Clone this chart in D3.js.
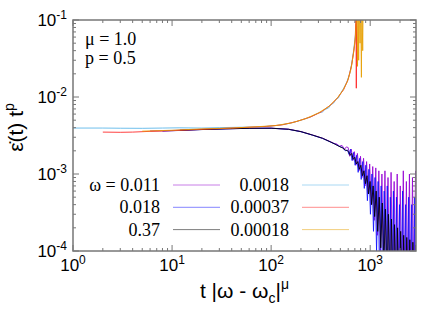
<!DOCTYPE html>
<html>
<head>
<meta charset="utf-8">
<script src="https://cdn.jsdelivr.net/npm/d3@7"></script>
<style>
  body { margin: 0; background: #fff; }
  svg { display: block; }
  .serif { font-family: "Liberation Serif", "Times New Roman", Times, serif; }
  .sans { font-family: "Liberation Sans", Arial, Helvetica, sans-serif; }
</style>
</head>
<body>
<div class="plot"></div>
<script>
// legend labels, in drawing order
var omegas = ["0.011", "0.018", "0.37", "0.0018", "0.00037", "0.00018"];
var colors = ["#9400d3", "#1010ff", "#000000", "#56b4e9", "#ff2020", "#e69f00"];

// each series: [t |w - wc|^mu, eps_dot * t^p]
var s011 = [[6,3.62e-3],[8,3.64e-3],[12,3.7e-3],[20,3.79e-3],[35,3.87e-3],[60,3.93e-3],[100,3.94e-3],[150,3.82e-3],[200,3.56e-3],[260,3.22e-3],[330,2.92e-3],
  [400,2.62e-3],[430,2.5e-3],[460,2.45e-3],[490,2.3e-3],[520,2.35e-3],[550,2.1e-3],[575,2.25e-3],
  [600,2.2e-3],[622,1.7e-3],[645,2.1e-3],[668,1.5e-3],[692,1.95e-3],[717,1.3e-3],[743,1.85e-3],[770,1.1e-3],[798,1.7e-3],[827,9e-4],[857,1.6e-3],
  [888,7e-4],[920,1.45e-3],[953,5.5e-4],[988,1.35e-3],[1024,4e-4],[1061,1.25e-3],[1099,2.5e-4],[1139,1.2e-3],[1180,1.6e-4],[1223,1.1e-3],[1267,1e-4],
  [1313,1.0e-3],[1360,7e-5],[1409,1.1e-3],[1460,5e-5],[1513,9e-4],[1568,4e-5],[1625,1.05e-3],[1684,3e-5],[1745,8e-4],[1808,3e-5],[1873,1.0e-3],
  [1941,2e-5],[2011,7e-4],[2084,3e-5],[2159,1.1e-3],[2237,2e-5],[2318,8e-4],[2402,3e-5],[2489,1.0e-3],[2579,2e-5],[2672,9e-4],[2769,3e-5],[2869,1.1e-3]];
var s018 = [[8,3.6e-3],[12,3.68e-3],[20,3.78e-3],[35,3.86e-3],[60,3.92e-3],[100,3.93e-3],[150,3.8e-3],[200,3.54e-3],[260,3.2e-3],[330,2.9e-3],
  [410,2.55e-3],[440,2.45e-3],[470,2.35e-3],[500,2.25e-3],[530,2.2e-3],[560,2.0e-3],[590,2.05e-3],
  [611,1.8e-3],[633,2.1e-3],[656,1.5e-3],[680,1.9e-3],[705,1.3e-3],[730,1.75e-3],[756,1.05e-3],[784,1.6e-3],[812,8.5e-4],[842,1.45e-3],[872,6.5e-4],
  [904,1.3e-3],[937,4.5e-4],[971,1.15e-3],[1006,3e-4],[1042,1.0e-3],[1080,1.8e-4],[1119,9e-4],[1160,1e-4],[1202,8e-4],[1245,4e-5],[1290,7e-4],
  [1337,3e-5],[1385,6e-4],[1435,2e-5],[1487,7e-4],[1541,2e-5],[1597,5e-4],[1655,2e-5],[1715,6e-4],[1777,1e-5],[1841,5e-4],[1907,2e-5],[1976,4e-4],
  [2048,1e-5],[2122,6e-4],[2199,2e-5],[2278,4e-4],[2360,1e-5],[2445,5e-4],[2533,2e-5],[2625,4e-4],[2720,1e-5],[2818,5e-4],[2900,2e-5]];
var s37 = [[12,3.7e-3],[20,3.78e-3],[35,3.86e-3],[60,3.92e-3],[100,3.93e-3],[150,3.81e-3],[200,3.55e-3],[260,3.21e-3],[330,2.91e-3],
  [400,2.6e-3],[440,2.45e-3],[480,2.3e-3],[520,2.2e-3],[560,2.05e-3],[590,2.0e-3],
  [605,1.95e-3],[628,1.75e-3],[651,1.85e-3],[674,1.55e-3],[699,1.65e-3],[724,1.35e-3],[750,1.45e-3],[777,1.15e-3],[805,1.3e-3],[834,9.5e-4],[865,1.1e-3],
  [896,7.5e-4],[929,9.5e-4],[962,5.5e-4],[997,8e-4],[1033,4e-4],[1071,7e-4],[1109,2.8e-4],[1149,6e-4],[1191,1.8e-4],[1234,5e-4],[1279,1.1e-4],
  [1325,4.2e-4],[1373,6e-5],[1423,3.5e-4],[1474,4e-5],[1527,3e-4],[1583,3e-5],[1640,2.6e-4],[1699,2e-5],[1761,2.2e-4],[1824,2e-5],[1890,2e-4],
  [1959,1e-5],[2030,1.8e-4],[2103,2e-5],[2179,1.6e-4],[2258,1e-5],[2339,1.5e-4],[2424,2e-5],[2512,1.4e-4],[2602,1e-5],[2696,1.3e-4],[2794,2e-5],[2895,1.2e-4]];
var s0018 = [[1,3.95e-3],[2,3.95e-3],[3,3.93e-3],[5,3.92e-3],[8,3.95e-3],[12,3.98e-3],[20,3.95e-3],[30,4.0e-3],[50,4.05e-3],[80,4.1e-3],[120,4.3e-3],
  [160,4.6e-3],[200,5.0e-3],[250,5.5e-3],[300,6.2e-3],[330,6.4e-3],[350,6.9e-3],[380,7.2e-3],[400,7.9e-3],[430,8.4e-3],[450,9.3e-3],[480,9.8e-3],[500,1.1e-2],
  [540,1.3e-2],[580,1.55e-2],[620,2.0e-2],[650,2.7e-2],[680,4.0e-2],[700,5.5e-2],[720,7.5e-2],[735,0.11],[745,0.2]];
var s00037 = [[2,3.5e-3],[3,3.48e-3],[4,3.5e-3],[6,3.58e-3],[10,3.65e-3],[15,3.75e-3],[25,3.85e-3],[40,3.95e-3],[60,4.05e-3],[90,4.15e-3],[130,4.35e-3],
  [180,4.8e-3],[250,5.5e-3],[320,6.4e-3],[400,7.9e-3],[470,9.8e-3],[540,1.25e-2],[600,1.7e-2],[650,2.6e-2],[690,4.3e-2],[705,5.5e-2],[715,9e-2],[720,0.2],
  [724,1.3e-2],[730,0.2]];
var s00018 = [[5,3.6e-3],[10,3.7e-3],[20,3.85e-3],[40,3.95e-3],[70,4.1e-3],[110,4.25e-3],[160,4.6e-3],[220,5.2e-3],[300,6.2e-3],[380,7.5e-3],[460,9.5e-3],
  [530,1.22e-2],[590,1.6e-2],[640,2.3e-2],[680,3.8e-2],[710,6e-2],[735,0.15],[745,2.5e-2],[755,0.2],[765,3e-2],[775,0.2],[790,5e-2],[800,0.2],[815,1.8e-2],
  [825,0.2],[840,4e-2],[850,0.2]];
var series = [s011, s018, s37, s0018, s00037, s00018];

var xTicks = [1, 10, 100, 1000];
var yTicks = [1e-4, 1e-3, 1e-2, 1e-1];

var margin = {top: 20, right: 20, bottom: 72, left: 73},
  width = 436 - margin.left - margin.right,
  height = 323 - margin.top - margin.bottom;

var svg = d3.select(".plot")
    .append("svg")
    .attr("width", 436)
    .attr("height", 323)
    .append("g")
    .attr("transform", "translate(" + margin.left + "," + margin.top + ")");

var x = d3.scaleLog().domain([1, 2900]).range([0, width]);
var y = d3.scaleLog().domain([1e-4, 1e-1]).range([height, 0]);

svg.append("clipPath").attr("id", "clip")
  .append("rect").attr("width", width).attr("height", height);

var line = d3.line().x(d => x(d[0])).y(d => y(d[1]));

svg.append("g").attr("clip-path", "url(#clip)")
  .selectAll("path")
  .data(series)
  .enter()
  .append("path")
    .attr("d", line)
    .style("fill", "none")
    .style("stroke", (d, i) => colors[i])
    .style("stroke-width", 1)
    .style("opacity", 0.85);

// minor + major ticks on all four sides, pointing inward
var minorX = [], minorY = [];
[1, 10, 100, 1000].forEach(function(p) {
  for (var k = 2; k < 10; k++) if (p * k <= 2900) minorX.push(p * k);
});
[1e-4, 1e-3, 1e-2].forEach(function(p) {
  for (var k = 2; k < 10; k++) minorY.push(p * k);
});

var tickColor = "#777";
function ticksX(vals, len) {
  svg.selectAll(null).data(vals).enter().append("line")
    .attr("x1", d => x(d)).attr("x2", d => x(d))
    .attr("y1", height).attr("y2", height - len)
    .style("stroke", tickColor);
  svg.selectAll(null).data(vals).enter().append("line")
    .attr("x1", d => x(d)).attr("x2", d => x(d))
    .attr("y1", 0).attr("y2", len)
    .style("stroke", tickColor);
}
function ticksY(vals, len) {
  svg.selectAll(null).data(vals).enter().append("line")
    .attr("y1", d => y(d)).attr("y2", d => y(d))
    .attr("x1", 0).attr("x2", len)
    .style("stroke", tickColor);
  svg.selectAll(null).data(vals).enter().append("line")
    .attr("y1", d => y(d)).attr("y2", d => y(d))
    .attr("x1", width).attr("x2", width - len)
    .style("stroke", tickColor);
}
ticksX(xTicks, 6);
ticksX(minorX, 3);
ticksY(yTicks, 6);
ticksY(minorY, 3);

svg.append("rect")
  .attr("width", width).attr("height", height)
  .style("fill", "none").style("stroke", tickColor).style("stroke-width", 1.5);

// tick labels as 10^n
svg.selectAll(null).data(xTicks).enter().append("text")
  .attr("class", "sans")
  .attr("x", d => x(d)).attr("y", height + 20)
  .attr("text-anchor", "middle")
  .style("font-size", "17px")
  .each(function(d) {
    var t = d3.select(this);
    t.append("tspan").text("10");
    t.append("tspan").attr("dy", -7).style("font-size", "12px").text(Math.round(Math.log10(d)));
  });

svg.selectAll(null).data(yTicks).enter().append("text")
  .attr("class", "sans")
  .attr("x", -6).attr("y", d => y(d) + 6)
  .attr("text-anchor", "end")
  .style("font-size", "17px")
  .each(function(d) {
    var t = d3.select(this);
    t.append("tspan").text("10");
    t.append("tspan").attr("dy", -7).style("font-size", "12px").text(Math.round(Math.log10(d)));
  });

// axis titles
var xl = svg.append("text")
  .attr("class", "sans")
  .attr("x", width / 2).attr("y", height + 47)
  .attr("text-anchor", "middle")
  .style("font-size", "21px");
xl.append("tspan").text("t |ω - ω");
xl.append("tspan").attr("dy", 5).style("font-size", "14px").text("c");
xl.append("tspan").attr("dy", -5).text("|");
xl.append("tspan").attr("dy", -9).style("font-size", "14px").text("μ");

var yl = svg.append("text")
  .attr("class", "sans")
  .attr("transform", "translate(-50," + (height / 2 - 8) + ")rotate(-90)")
  .attr("text-anchor", "middle")
  .style("font-size", "21px");
yl.append("tspan").text("ε\u0307(t) t");
yl.append("tspan").attr("dy", -9).style("font-size", "14px").text("p");

// parameter note
svg.append("text").attr("class", "serif").attr("x", 12).attr("y", 25)
  .style("font-size", "18px").text("μ = 1.0");
svg.append("text").attr("class", "serif").attr("x", 12).attr("y", 44)
  .style("font-size", "18px").text("p = 0.5");

// legend, two columns of three
var legend = svg.selectAll(".legend")
  .data(omegas)
  .enter()
  .append("g")
    .attr("class", "legend")
    .attr("transform", (d, i) => "translate(" + (i < 3 ? 87 : 216) + "," + (165 + (i % 3) * 22.3) + ")");

legend.append("text")
  .attr("class", "serif")
  .attr("x", 0).attr("y", 6)
  .attr("text-anchor", "end")
  .style("font-size", "18px")
  .text((d, i) => i == 0 ? "ω = " + d : d);

legend.append("line")
  .attr("x1", 13).attr("x2", 60)
  .style("stroke", (d, i) => colors[i])
  .style("stroke-width", 1)
  .style("opacity", 0.5);
</script>
</body>
</html>
